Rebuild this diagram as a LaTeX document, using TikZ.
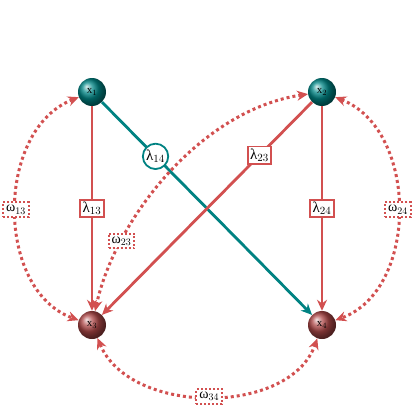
\documentclass[tikz,border=0pt]{standalone}
\usepackage{fontspec}
\setmainfont{Liberation Serif}
\usetikzlibrary{arrows.meta,shadings}
\definecolor{myred}{RGB}{210,80,80}
\definecolor{myteal}{RGB}{0,130,130}
\definecolor{ballred}{RGB}{175,72,72}
\definecolor{ballteal}{RGB}{0,135,135}
\tikzset{
  ballnode/.style={circle,minimum size=28pt,inner sep=0pt,text=black,font=\fontsize{11}{12}\selectfont},
  solidred/.style={draw=myred,line width=2.8pt,-{Stealth[length=11pt,width=10pt]}},
  solidteal/.style={draw=myteal,line width=2.8pt,-{Stealth[length=11pt,width=10pt]}},
  dotred/.style={draw=myred,line width=3pt,dash pattern=on 3pt off 3pt,{Stealth[length=11pt,width=10pt]}-{Stealth[length=11pt,width=10pt]}},
  lbox/.style={draw=myred,line width=1.8pt,fill=white,inner sep=2.5pt,font=\fontsize{15}{16}\selectfont,solid},
  lcirc/.style={draw=myteal,line width=1.8pt,fill=white,circle,inner sep=1pt,font=\fontsize{15}{16}\selectfont,solid},
  wbox/.style={draw=myred,line width=2pt,dash pattern=on 2pt off 2pt,fill=white,inner sep=3pt,font=\fontsize{14}{15}\selectfont},
}
\begin{document}
\begin{tikzpicture}[x=1pt,y=-1pt]
\useasboundingbox (0,0) rectangle (420,420);
\node[ballnode,ball color=ballteal] (x1) at (92,92) {x$_1$};
\node[ballnode,ball color=ballteal] (x2) at (322,92) {x$_2$};
\node[ballnode,ball color=ballred] (x3) at (92,325) {x$_3$};
\node[ballnode,ball color=ballred] (x4) at (322,325) {x$_4$};
% teal
\draw[solidteal] (x1) -- (x4) node[lcirc,pos=0.255] (l14) {λ$_{14}$};
% red solids
\draw[solidred] (x1) -- (x3) node[lbox,pos=0.5] (l13) {λ$_{13}$};
\draw[solidred] (x2) -- (x4) node[lbox,pos=0.5] (l24) {λ$_{24}$};
\draw[solidred] (x2) -- (x3) node[lbox,pos=0.25] (l23) {λ$_{23}$};
% dotted
\draw[dotred] (x1) .. controls (-5,130) and (-5,290) .. (x3) node[wbox,pos=0.5] (w13) {ω$_{13}$};
\draw[dotred] (x2) .. controls (419,130) and (419,290) .. (x4) node[wbox,pos=0.5] (w24) {ω$_{24}$};
\draw[dotred] (x3) .. controls (130,416) and (290,416) .. (x4) node[wbox,pos=0.5] (w34) {ω$_{34}$};
\draw[dotred] (x2) .. controls (200,110) and (115,220) .. (x3) node[wbox,pos=0.75] (w23) {ω$_{23}$};
\end{tikzpicture}
\end{document}
